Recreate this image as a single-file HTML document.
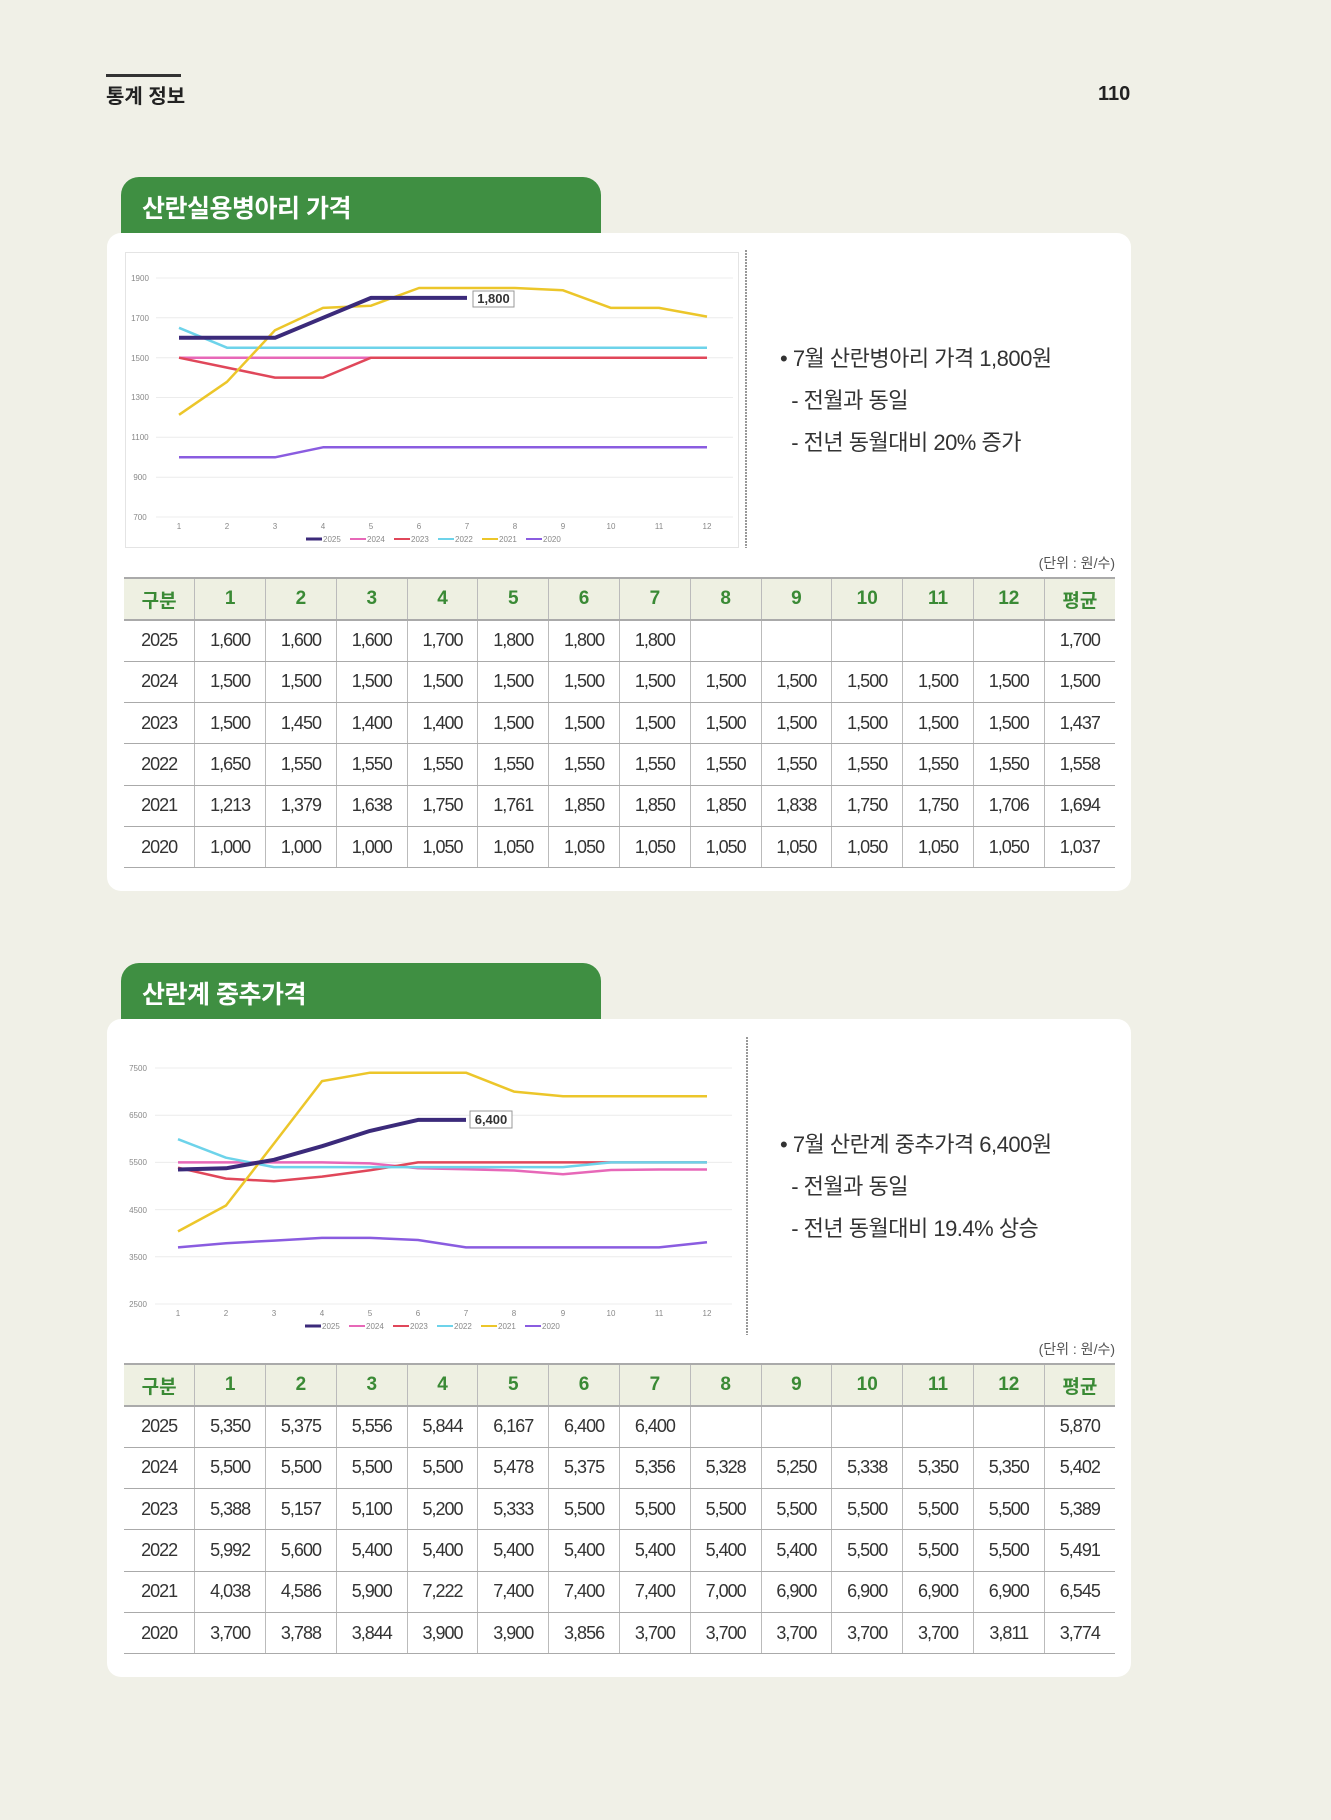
<!DOCTYPE html>
<html><head><meta charset="utf-8">
<style>
*{margin:0;padding:0;box-sizing:border-box}
body{width:1331px;height:1820px;background:#f0f0e7;position:relative;overflow:hidden;font-family:"Liberation Sans","Noto Sans CJK KR",sans-serif;color:#333}
.abs{position:absolute}
.tab{position:absolute;left:121px;width:480px;height:60px;background:#3f8f42;border-radius:18px 18px 0 0;color:#fff;font-weight:bold;font-size:25px;padding:12px 0 0 21px;letter-spacing:-0.5px}
.card{position:absolute;left:107px;width:1024px;height:658px;background:#fff;border-radius:14px}
.bul{position:absolute;left:780px;font-size:22px;color:#333;line-height:42px;letter-spacing:-0.5px}
.unit{position:absolute;right:216px;font-size:14px;color:#555}
table{position:absolute;left:124px;width:991px;border-collapse:collapse;table-layout:fixed}
td{border-left:1px solid #bbb;border-bottom:1px solid #aaa;text-align:center;font-size:18px;letter-spacing:-1px;height:41.3px;color:#333;padding:0}
td:first-child{border-left:none}
tr.h td{background:#eef0e2;color:#3a8a35;font-weight:bold;font-size:19px;height:42px;border-top:2px solid #aaa;border-bottom:2px solid #aaa;letter-spacing:0}
</style></head><body>
<div class="abs" style="left:106px;top:74px;width:75px;height:3px;background:#333"></div>
<div class="abs" style="left:106px;top:80px;font-size:20px;font-weight:bold;color:#222">통계 정보</div>
<div class="abs" style="left:1098px;top:83px;font-size:20px;font-weight:bold;color:#222">110</div>

<div class="tab" style="top:177px">산란실용병아리 가격</div>
<div class="card" style="top:233px"></div>
<div class="tab" style="top:963px">산란계 중추가격</div>
<div class="card" style="top:1019px"></div>

<div class="abs" style="left:125px;top:252px;width:614px;height:296px;border:1px solid #e4e4e4"></div>

<svg class="abs" style="left:0;top:0" width="1331" height="1820" viewBox="0 0 1331 1820">
<g font-family="Liberation Sans, sans-serif" font-size="8" fill="#888">
<!-- chart1 grid -->
<g stroke="#ececec" stroke-width="1">
<line x1="156" x2="733" y1="278" y2="278"/><line x1="156" x2="733" y1="317.8" y2="317.8"/><line x1="156" x2="733" y1="357.7" y2="357.7"/><line x1="156" x2="733" y1="397.5" y2="397.5"/><line x1="156" x2="733" y1="437.3" y2="437.3"/><line x1="156" x2="733" y1="477.2" y2="477.2"/><line x1="156" x2="733" y1="517" y2="517"/>
</g>
<g text-anchor="middle"><text x="140" y="281">1900</text><text x="140" y="321">1700</text><text x="140" y="361">1500</text><text x="140" y="400">1300</text><text x="140" y="440">1100</text><text x="140" y="480">900</text><text x="140" y="520">700</text>
<text x="179" y="529">1</text><text x="227" y="529">2</text><text x="275" y="529">3</text><text x="323" y="529">4</text><text x="371" y="529">5</text><text x="419" y="529">6</text><text x="467" y="529">7</text><text x="515" y="529">8</text><text x="563" y="529">9</text><text x="611" y="529">10</text><text x="659" y="529">11</text><text x="707" y="529">12</text></g>
<g fill="none" stroke-linejoin="round">
<polyline stroke="#8a5ce0" stroke-width="2.5" points="179,457.3 227,457.3 275,457.3 323,447.3 371,447.3 419,447.3 467,447.3 515,447.3 563,447.3 611,447.3 659,447.3 707,447.3"/>
<polyline stroke="#e768b8" stroke-width="2.5" points="179,357.7 707,357.7"/>
<polyline stroke="#e0475a" stroke-width="2.5" points="179,357.7 227,367.6 275,377.6 323,377.6 371,357.7 707,357.7"/>
<polyline stroke="#6dd3ea" stroke-width="2.5" points="179,327.8 227,347.7 707,347.7"/>
<polyline stroke="#ecc62a" stroke-width="2.5" points="179,414.8 227,381.8 275,330.2 323,307.9 371,305.7 419,288 467,288 515,288 563,290.3 611,307.9 659,307.9 707,316.6"/>
<polyline stroke="#3b2a7a" stroke-width="4" points="179,337.8 227,337.8 275,337.8 323,317.8 371,297.9 419,297.9 467,297.9"/>
</g>
<rect x="473" y="291" width="41" height="16" fill="#fff" stroke="#999"/>
<text x="493.5" y="303" text-anchor="middle" font-size="13" font-weight="bold" fill="#333">1,800</text>
<g font-size="8" fill="#888">
<line x1="306" x2="322" y1="539" y2="539" stroke="#3b2a7a" stroke-width="3"/><text x="323" y="542">2025</text>
<line x1="350" x2="366" y1="539" y2="539" stroke="#e768b8" stroke-width="2"/><text x="367" y="542">2024</text>
<line x1="394" x2="410" y1="539" y2="539" stroke="#e0475a" stroke-width="2"/><text x="411" y="542">2023</text>
<line x1="438" x2="454" y1="539" y2="539" stroke="#6dd3ea" stroke-width="2"/><text x="455" y="542">2022</text>
<line x1="482" x2="498" y1="539" y2="539" stroke="#ecc62a" stroke-width="2"/><text x="499" y="542">2021</text>
<line x1="526" x2="542" y1="539" y2="539" stroke="#8a5ce0" stroke-width="2"/><text x="543" y="542">2020</text>
</g>
<line x1="746" x2="746" y1="250" y2="548" stroke="#555" stroke-width="1.2" stroke-dasharray="2,1"/>

<!-- chart2 -->
<g stroke="#ececec" stroke-width="1">
<line x1="155" x2="732" y1="1068" y2="1068"/><line x1="155" x2="732" y1="1115.2" y2="1115.2"/><line x1="155" x2="732" y1="1162.4" y2="1162.4"/><line x1="155" x2="732" y1="1209.6" y2="1209.6"/><line x1="155" x2="732" y1="1256.8" y2="1256.8"/><line x1="155" x2="732" y1="1304" y2="1304"/>
</g>
<g text-anchor="middle"><text x="138" y="1071">7500</text><text x="138" y="1118">6500</text><text x="138" y="1165">5500</text><text x="138" y="1213">4500</text><text x="138" y="1260">3500</text><text x="138" y="1307">2500</text>
<text x="178" y="1316">1</text><text x="226" y="1316">2</text><text x="274" y="1316">3</text><text x="322" y="1316">4</text><text x="370" y="1316">5</text><text x="418" y="1316">6</text><text x="466" y="1316">7</text><text x="514" y="1316">8</text><text x="563" y="1316">9</text><text x="611" y="1316">10</text><text x="659" y="1316">11</text><text x="707" y="1316">12</text></g>
<g fill="none" stroke-linejoin="round">
<polyline stroke="#8a5ce0" stroke-width="2.5" points="178,1247.4 226,1243.2 274,1240.6 322,1237.9 370,1237.9 418,1240 466,1247.4 514,1247.4 563,1247.4 611,1247.4 659,1247.4 707,1242.2"/>
<polyline stroke="#e768b8" stroke-width="2.5" points="178,1162.4 226,1162.4 274,1162.4 322,1162.4 370,1163.4 418,1168.3 466,1169.2 514,1170.5 563,1174.2 611,1170 659,1169.5 707,1169.5"/>
<polyline stroke="#e0475a" stroke-width="2.5" points="178,1167.7 226,1178.6 274,1181.3 322,1176.6 370,1170.3 418,1162.4 707,1162.4"/>
<polyline stroke="#6dd3ea" stroke-width="2.5" points="178,1139.2 226,1157.7 274,1167.1 563,1167.1 611,1162.4 707,1162.4"/>
<polyline stroke="#ecc62a" stroke-width="2.5" points="178,1231.4 226,1205.5 274,1143.5 322,1081.1 370,1072.7 418,1072.7 466,1072.7 514,1091.6 563,1096.3 707,1096.3"/>
<polyline stroke="#3b2a7a" stroke-width="4" points="178,1169.5 226,1168.3 274,1159.8 322,1146.2 370,1130.9 418,1119.9 466,1119.9"/>
</g>
<rect x="470" y="1111" width="42" height="17" fill="#fff" stroke="#999"/>
<text x="491" y="1124" text-anchor="middle" font-size="13" font-weight="bold" fill="#333">6,400</text>
<g font-size="8" fill="#888">
<line x1="305" x2="321" y1="1326" y2="1326" stroke="#3b2a7a" stroke-width="3"/><text x="322" y="1329">2025</text>
<line x1="349" x2="365" y1="1326" y2="1326" stroke="#e768b8" stroke-width="2"/><text x="366" y="1329">2024</text>
<line x1="393" x2="409" y1="1326" y2="1326" stroke="#e0475a" stroke-width="2"/><text x="410" y="1329">2023</text>
<line x1="437" x2="453" y1="1326" y2="1326" stroke="#6dd3ea" stroke-width="2"/><text x="454" y="1329">2022</text>
<line x1="481" x2="497" y1="1326" y2="1326" stroke="#ecc62a" stroke-width="2"/><text x="498" y="1329">2021</text>
<line x1="525" x2="541" y1="1326" y2="1326" stroke="#8a5ce0" stroke-width="2"/><text x="542" y="1329">2020</text>
</g>
<line x1="747" x2="747" y1="1037" y2="1335" stroke="#555" stroke-width="1.2" stroke-dasharray="2,1"/>
</g>
</svg>

<div class="bul" style="top:338px">• 7월 산란병아리 가격 1,800원<br>&nbsp;&nbsp;- 전월과 동일<br>&nbsp;&nbsp;- 전년 동월대비 20% 증가</div>
<div class="bul" style="top:1124px">• 7월 산란계 중추가격 6,400원<br>&nbsp;&nbsp;- 전월과 동일<br>&nbsp;&nbsp;- 전년 동월대비 19.4% 상승</div>

<div class="unit" style="top:553px">(단위 : 원/수)</div>
<table style="top:577px">
<tr class="h"><td>구분</td><td>1</td><td>2</td><td>3</td><td>4</td><td>5</td><td>6</td><td>7</td><td>8</td><td>9</td><td>10</td><td>11</td><td>12</td><td>평균</td></tr>
<tr><td>2025</td><td>1,600</td><td>1,600</td><td>1,600</td><td>1,700</td><td>1,800</td><td>1,800</td><td>1,800</td><td></td><td></td><td></td><td></td><td></td><td>1,700</td></tr>
<tr><td>2024</td><td>1,500</td><td>1,500</td><td>1,500</td><td>1,500</td><td>1,500</td><td>1,500</td><td>1,500</td><td>1,500</td><td>1,500</td><td>1,500</td><td>1,500</td><td>1,500</td><td>1,500</td></tr>
<tr><td>2023</td><td>1,500</td><td>1,450</td><td>1,400</td><td>1,400</td><td>1,500</td><td>1,500</td><td>1,500</td><td>1,500</td><td>1,500</td><td>1,500</td><td>1,500</td><td>1,500</td><td>1,437</td></tr>
<tr><td>2022</td><td>1,650</td><td>1,550</td><td>1,550</td><td>1,550</td><td>1,550</td><td>1,550</td><td>1,550</td><td>1,550</td><td>1,550</td><td>1,550</td><td>1,550</td><td>1,550</td><td>1,558</td></tr>
<tr><td>2021</td><td>1,213</td><td>1,379</td><td>1,638</td><td>1,750</td><td>1,761</td><td>1,850</td><td>1,850</td><td>1,850</td><td>1,838</td><td>1,750</td><td>1,750</td><td>1,706</td><td>1,694</td></tr>
<tr><td>2020</td><td>1,000</td><td>1,000</td><td>1,000</td><td>1,050</td><td>1,050</td><td>1,050</td><td>1,050</td><td>1,050</td><td>1,050</td><td>1,050</td><td>1,050</td><td>1,050</td><td>1,037</td></tr>
</table>

<div class="unit" style="top:1339px">(단위 : 원/수)</div>
<table style="top:1363px">
<tr class="h"><td>구분</td><td>1</td><td>2</td><td>3</td><td>4</td><td>5</td><td>6</td><td>7</td><td>8</td><td>9</td><td>10</td><td>11</td><td>12</td><td>평균</td></tr>
<tr><td>2025</td><td>5,350</td><td>5,375</td><td>5,556</td><td>5,844</td><td>6,167</td><td>6,400</td><td>6,400</td><td></td><td></td><td></td><td></td><td></td><td>5,870</td></tr>
<tr><td>2024</td><td>5,500</td><td>5,500</td><td>5,500</td><td>5,500</td><td>5,478</td><td>5,375</td><td>5,356</td><td>5,328</td><td>5,250</td><td>5,338</td><td>5,350</td><td>5,350</td><td>5,402</td></tr>
<tr><td>2023</td><td>5,388</td><td>5,157</td><td>5,100</td><td>5,200</td><td>5,333</td><td>5,500</td><td>5,500</td><td>5,500</td><td>5,500</td><td>5,500</td><td>5,500</td><td>5,500</td><td>5,389</td></tr>
<tr><td>2022</td><td>5,992</td><td>5,600</td><td>5,400</td><td>5,400</td><td>5,400</td><td>5,400</td><td>5,400</td><td>5,400</td><td>5,400</td><td>5,500</td><td>5,500</td><td>5,500</td><td>5,491</td></tr>
<tr><td>2021</td><td>4,038</td><td>4,586</td><td>5,900</td><td>7,222</td><td>7,400</td><td>7,400</td><td>7,400</td><td>7,000</td><td>6,900</td><td>6,900</td><td>6,900</td><td>6,900</td><td>6,545</td></tr>
<tr><td>2020</td><td>3,700</td><td>3,788</td><td>3,844</td><td>3,900</td><td>3,900</td><td>3,856</td><td>3,700</td><td>3,700</td><td>3,700</td><td>3,700</td><td>3,700</td><td>3,811</td><td>3,774</td></tr>
</table>
</body></html>
